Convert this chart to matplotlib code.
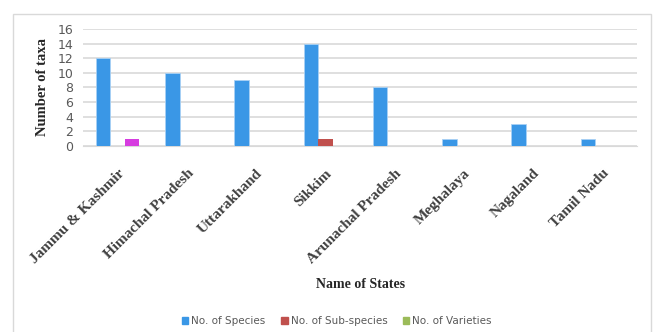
import matplotlib.pyplot as plt
import numpy as np
from matplotlib.patches import Rectangle

states = ["Jammu & Kashmir", "Himachal Pradesh", "Uttarakhand", "Sikkim",
          "Arunachal Pradesh", "Meghalaya", "Nagaland", "Tamil Nadu"]
species = [12, 10, 9, 14, 8, 1, 3, 1]
sub_species = [0, 0, 0, 1, 0, 0, 0, 0]
varieties = [1, 0, 0, 0, 0, 0, 0, 0]

series_names = ["No. of Species", "No. of Sub-species", "No. of Varieties"]
colors = ["#3a97e6", "#c0504d", "#9bbb59"]
# the single varieties bar is shown in magenta in the original
varieties_colors = ["#d63ce0"] + ["#9bbb59"] * (len(states) - 1)

W, H = 654, 332
fig = plt.figure(figsize=(W / 100, H / 100), dpi=100)
ax = fig.add_axes([83 / W, 1 - 146 / H, (637 - 83) / W, (146 - 29) / H])

fig.patches.append(Rectangle((13 / W, -0.05), (651 - 13) / W, 1.05 - 14 / H,
                             transform=fig.transFigure, fill=False,
                             edgecolor="#d9d9d9", linewidth=1))

x = np.arange(len(states))
w = 0.21
ax.bar(x - w, species, w, color=colors[0], edgecolor="#a8d1f5", linewidth=0.6,
       label=series_names[0], zorder=3)
ax.bar(x, sub_species, w, color=colors[1], label=series_names[1], zorder=3)
ax.bar(x + w, varieties, w, color=varieties_colors, label=series_names[2], zorder=3)

ax.set_xlim(-0.5, len(states) - 0.5)
ax.set_ylim(0, 16)
ax.set_yticks(range(0, 17, 2))
ax.yaxis.grid(True, color="#d9d9d9", linewidth=1.2, zorder=0)
ax.set_axisbelow(True)
for s in ["top", "right", "left"]:
    ax.spines[s].set_visible(False)
ax.spines["bottom"].set_color("#d9d9d9")
ax.tick_params(axis="both", length=0)
ax.tick_params(axis="y", labelsize=9, labelcolor="#595959", pad=7)

ax.set_xticks(x)
ax.set_xticklabels(states, rotation=45, ha="right", rotation_mode="anchor",
                   fontfamily="Liberation Serif", fontweight="bold",
                   fontsize=11, color="#404040")
ax.tick_params(axis="x", pad=15)

ax.set_ylabel("Number of taxa", fontfamily="Liberation Serif", fontweight="bold",
              fontsize=10.5, color="#262626", labelpad=6)
fig.text(361 / W, 1 - 285 / H, "Name of States", ha="center", va="center",
         fontfamily="Liberation Serif", fontweight="bold", fontsize=10,
         color="#262626")

handles = [Rectangle((0, 0), 1, 1, color=c) for c in colors]
fig.legend(handles, series_names, loc="center", bbox_to_anchor=(337 / W, 1 - 321 / H),
           ncol=3, frameon=False, fontsize=7.5, handlelength=0.6, handleheight=0.6,
           handletextpad=0.3, columnspacing=1.5, labelcolor="#595959")

fig.savefig("out.png", dpi=100)
